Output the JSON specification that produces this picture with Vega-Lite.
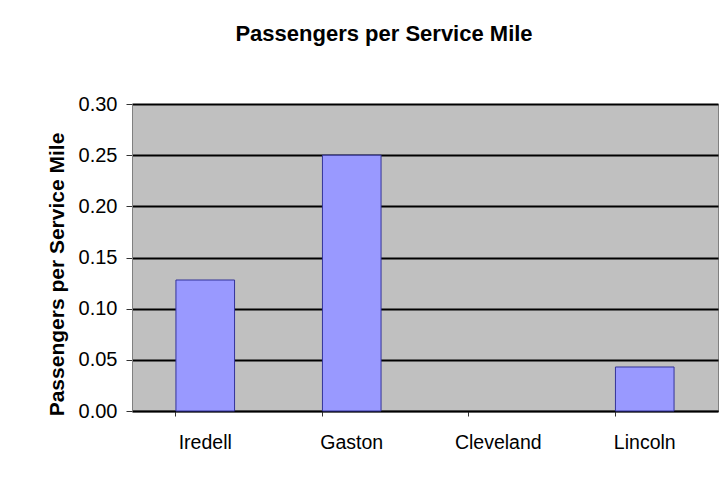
{
  "$schema": "https://vega.github.io/schema/vega-lite/v6.json",
  "width": 586,
  "height": 307,
  "autosize": {"type": "none"},
  "padding": {"left": 132, "top": 104, "right": 8, "bottom": 74},
  "background": "white",
  "config": {
    "font": "Liberation Sans",
    "view": {"fill": "#C0C0C0", "stroke": "#808080", "strokeWidth": 1}
  },
  "title": {
    "text": "Passengers per Service Mile",
    "fontSize": 22,
    "fontWeight": "bold",
    "font": "Liberation Sans",
    "color": "black",
    "anchor": "middle",
    "frame": "group",
    "dx": -41,
    "offset": 48
  },
  "data": {
    "values": [
      {"county": "Iredell", "value": 0.128},
      {"county": "Gaston", "value": 0.25},
      {"county": "Cleveland", "value": null},
      {"county": "Lincoln", "value": 0.043}
    ]
  },
  "mark": {"type": "bar", "fill": "#9999FF", "stroke": "#333399", "strokeWidth": 1},
  "encoding": {
    "x": {
      "field": "county",
      "type": "nominal",
      "sort": ["Iredell", "Gaston", "Cleveland", "Lincoln"],
      "scale": {"domain": ["Iredell", "Gaston", "Cleveland", "Lincoln"], "paddingInner": 0.6, "paddingOuter": 0.3},
      "axis": {
        "title": null,
        "labelAngle": 0,
        "labelFontSize": 19.5,
        "labelColor": "black",
        "labelPadding": 17,
        "bandPosition": 0,
        "tickSize": 5,
        "tickColor": "#333333",
        "domainColor": "black",
        "domainWidth": 1.5,
        "grid": false
      }
    },
    "y": {
      "field": "value",
      "type": "quantitative",
      "scale": {"domain": [0, 0.3], "nice": false},
      "axis": {
        "title": "Passengers per Service Mile",
        "titleFontSize": 21,
        "titleFontWeight": "bold",
        "titleColor": "black",
        "titlePadding": 11,
        "titleY": 170,
        "values": [0, 0.05, 0.1, 0.15, 0.2, 0.25, 0.3],
        "format": ".2f",
        "labelFontSize": 20,
        "labelColor": "black",
        "labelPadding": 9,
        "tickSize": 6,
        "tickColor": "#333333",
        "domainColor": "#808080",
        "grid": true,
        "gridColor": "black",
        "gridWidth": 2,
        "gridOpacity": 1
      }
    }
  }
}
